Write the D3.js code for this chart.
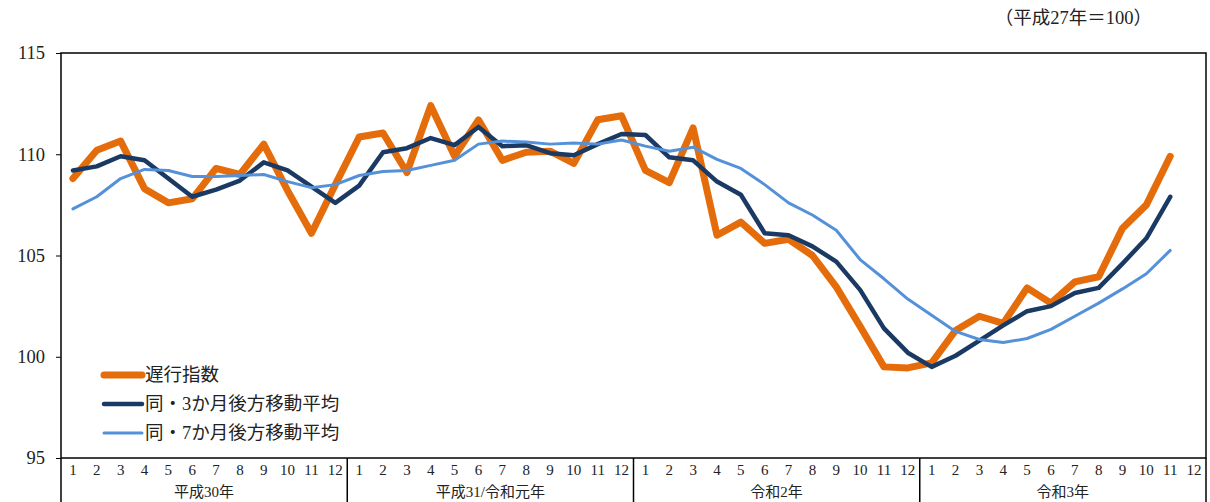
<!DOCTYPE html>
<html>
<head>
<meta charset="utf-8">
<script src="https://cdn.jsdelivr.net/npm/d3@7"></script>
<style>
  body { margin: 0; background: #fff; }
  svg text { font-family: "Liberation Serif", "Noto Sans CJK JP", serif; fill: #222; }
</style>
</head>
<body>
<svg id="chart" width="1210" height="502"></svg>
<script>
// years and months on the x axis
const years = ["平成30年", "平成31/令和元年", "令和2年", "令和3年"];
const months = ["1", "2", "3", "4", "5", "6", "7", "8", "9", "10", "11", "12"];

// 遅行指数 (Jan H30 .. Nov R3)
const lagging = [
  108.8, 110.2, 110.65, 108.3, 107.6, 107.8, 109.3, 109.0, 110.5, 108.2, 106.1, 108.5,
  110.85, 111.05, 109.1, 112.4, 109.9, 111.7, 109.7, 110.1, 110.15, 109.55, 111.7, 111.9,
  109.2, 108.6, 111.3, 106.0, 106.65, 105.6, 105.8, 105.0, 103.45, 101.5, 99.5, 99.45,
  99.7, 101.3, 102.0, 101.65, 103.4, 102.65, 103.7, 103.95, 106.35, 107.5, 109.9
];
// 同・3か月後方移動平均
const ma3 = [
  109.2, 109.4, 109.9, 109.7, 108.8, 107.9, 108.25, 108.7, 109.6, 109.2, 108.4, 107.6,
  108.45, 110.1, 110.3, 110.8, 110.45, 111.35, 110.4, 110.45, 110.05, 109.95, 110.5, 111.0,
  110.95, 109.85, 109.7, 108.65, 108.0, 106.1, 106.0, 105.45, 104.7, 103.3, 101.4, 100.2,
  99.5, 100.05, 100.8, 101.55, 102.25, 102.5, 103.15, 103.4, 104.6, 105.85, 107.9
];
// 同・7か月後方移動平均
const ma7 = [
  107.3, 107.9, 108.8, 109.25, 109.2, 108.9, 108.9, 108.95, 109.0, 108.65, 108.35, 108.5,
  108.95, 109.15, 109.2, 109.45, 109.7, 110.5, 110.65, 110.6, 110.5, 110.55, 110.5, 110.7,
  110.4, 110.15, 110.35, 109.75, 109.3, 108.5, 107.6, 107.0, 106.25, 104.8, 103.85, 102.85,
  102.05, 101.25, 100.85, 100.7, 100.9, 101.35, 102.0, 102.65, 103.35, 104.1, 105.25
];
const yTicks = [95, 100, 105, 110, 115];

const series = [
  { name: "遅行指数", values: lagging, color: "#E46C0A", width: 7 },
  { name: "同・3か月後方移動平均", values: ma3, color: "#1B3A63", width: 4.5 },
  { name: "同・7か月後方移動平均", values: ma7, color: "#5591D8", width: 3 }
];

const svg = d3.select("#chart");
const pLeft = 61, pRight = 1206, pTop = 53, pBottom = 458;

const slots = d3.range(years.length * months.length);
const x = d3.scaleBand().domain(slots).range([pLeft, pRight]);
const y = d3.scaleLinear().domain([95, 115]).range([pBottom, pTop]);

// y axis
const yAxis = svg.append("g")
  .attr("transform", `translate(${pLeft},0)`)
  .call(d3.axisLeft(y).tickValues(yTicks).tickSize(5).tickPadding(11));
yAxis.select(".domain").remove();
yAxis.selectAll("line").attr("stroke", "#000");
yAxis.selectAll("text").style("font-size", "18.5px").attr("fill", "#222");

// frame
svg.append("rect")
  .attr("x", pLeft).attr("y", pTop)
  .attr("width", pRight - pLeft).attr("height", pBottom - pTop)
  .attr("fill", "none").attr("stroke", "#000").attr("stroke-width", 1.5);

// category axis below
const axisG = svg.append("g");
axisG.selectAll(".mlabel")
  .data(slots)
  .enter().append("text")
  .attr("class", "mlabel")
  .attr("x", d => x(d) + x.bandwidth() / 2)
  .attr("y", 475)
  .attr("text-anchor", "middle")
  .style("font-size", "15px")
  .text(d => months[d % 12]);

axisG.selectAll(".ylabel")
  .data(years)
  .enter().append("text")
  .attr("class", "ylabel")
  .attr("x", (d, i) => (x(i * 12) + x(i * 12 + 11) + x.bandwidth()) / 2)
  .attr("y", 497)
  .attr("text-anchor", "middle")
  .style("font-size", "15px")
  .text(d => d);

const seps = d3.range(years.length + 1).map(i => i < years.length ? x(i * 12) : pRight);
axisG.selectAll(".sep")
  .data(seps)
  .enter().append("line")
  .attr("x1", d => d).attr("x2", d => d)
  .attr("y1", pBottom).attr("y2", 502)
  .attr("stroke", "#000").attr("stroke-width", 1.5);

// lines
const line = d3.line()
  .x((d, i) => x(i) + x.bandwidth() / 2)
  .y(d => y(d));

svg.selectAll(".series")
  .data(series)
  .enter().append("path")
  .attr("class", "series")
  .attr("d", d => line(d.values))
  .attr("fill", "none")
  .attr("stroke", d => d.color)
  .attr("stroke-width", d => d.width)
  .attr("stroke-linejoin", "round")
  .attr("stroke-linecap", "round");

// legend
const legend = svg.append("g").attr("transform", "translate(104,375)");
const item = legend.selectAll("g")
  .data(series)
  .enter().append("g")
  .attr("transform", (d, i) => `translate(0,${i * 29})`);
item.append("line")
  .attr("x1", 0).attr("x2", 38)
  .attr("stroke", d => d.color)
  .attr("stroke-width", d => d.width)
  .attr("stroke-linecap", "round");
item.append("text")
  .attr("x", 41).attr("dy", "0.35em")
  .style("font-size", "18.5px")
  .text(d => d.name);

// unit note
svg.append("text")
  .attr("x", 1152).attr("y", 24)
  .attr("text-anchor", "end")
  .style("font-size", "18.5px")
  .text("（平成27年＝100）");
</script>
</body>
</html>
